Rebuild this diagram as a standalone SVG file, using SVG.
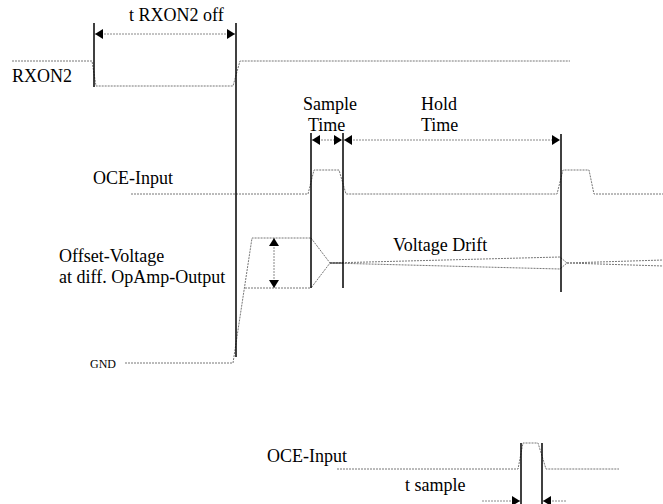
<svg xmlns="http://www.w3.org/2000/svg" width="663" height="504" viewBox="0 0 663 504">
<style>
.t{font-family:'Liberation Serif','Times New Roman',Times,serif;font-size:18px;fill:#000}
.sig{fill:none;stroke:#777;stroke-width:1;stroke-dasharray:2 1}
.dim{fill:none;stroke:#888;stroke-width:1;stroke-dasharray:2 1}
.v{stroke:#000;stroke-width:1.5;fill:none}
</style>
<defs>
<marker id="ah" viewBox="0 0 8 10" refX="8" refY="5" markerWidth="8" markerHeight="10" markerUnits="userSpaceOnUse" orient="auto-start-reverse">
<path d="M0,0 L8,5 L0,10 Z" fill="#000"/>
</marker>
</defs>
<rect width="663" height="504" fill="#fff"/>
<g id="labels" class="t">
<text x="129" y="21">t RXON2 off</text>
<text x="12" y="82">RXON2</text>
<text x="303" y="110">Sample</text>
<text x="308" y="131">Time</text>
<text x="421" y="110">Hold</text>
<text x="421" y="131">Time</text>
<text x="93" y="184">OCE-Input</text>
<text x="59" y="262">Offset-Voltage</text>
<text x="59" y="283">at diff. OpAmp-Output</text>
<text x="393" y="251">Voltage Drift</text>
<text x="90" y="368" style="font-size:12px">GND</text>
<text x="267" y="462">OCE-Input</text>
<text x="405" y="491">t sample</text>
</g>
<g id="signals">
<path id="rxon2" class="sig" d="M12,61 H92 L96,86 H233 L240,61 H570"/>
<path id="oce" class="sig" d="M131,194 H308 L314,170 H339 L346,194 H557 L563,170 H589 L594,194 H663"/>
<path id="offset" class="sig" d="M125,363 H233 L252,238 H311 M245,288 H311 M311,238 L330,263 L311,288"/>
<path id="drift" class="sig" d="M330,263 L560,257 L567,263 L560,269 Z M567,263 L663,260 M567,263 L663,266"/>
<line x1="330" y1="263" x2="343" y2="263" stroke="#333" stroke-width="1"/>
<path id="oce2" class="sig" d="M337,469 H518 L523,443 H538 L546,469 H619"/>
</g>
<g id="markers">
<line class="v" x1="94" y1="23" x2="94" y2="87"/>
<line class="v" x1="236" y1="23" x2="236" y2="357"/>
<line class="v" x1="311" y1="133" x2="311" y2="288"/>
<line class="v" x1="343" y1="133" x2="343" y2="288"/>
<line class="v" x1="561" y1="134" x2="561" y2="292"/>
<line class="v" x1="521" y1="443" x2="521" y2="504"/>
<line class="v" x1="542" y1="443" x2="542" y2="504"/>
</g>
<g id="connectors">
<line class="dim" x1="95" y1="34" x2="235" y2="34" marker-start="url(#ah)" marker-end="url(#ah)"/>
<line class="dim" x1="312" y1="140" x2="342" y2="140" marker-start="url(#ah)" marker-end="url(#ah)"/>
<line class="dim" x1="344" y1="140" x2="560" y2="140" marker-start="url(#ah)" marker-end="url(#ah)"/>
<line class="dim" x1="274" y1="238" x2="274" y2="288" marker-start="url(#ah)" marker-end="url(#ah)"/>
<line class="dim" x1="482" y1="501" x2="520" y2="501" marker-end="url(#ah)"/>
<line class="dim" x1="566" y1="501" x2="543" y2="501" marker-end="url(#ah)"/>
</g>
</svg>
